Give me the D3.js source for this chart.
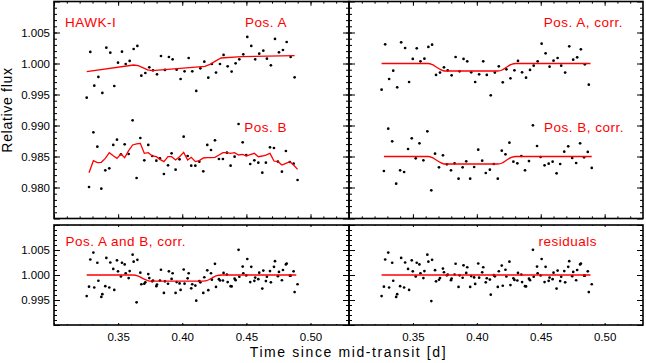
<!DOCTYPE html>
<html>
<head>
<meta charset="utf-8">
<script src="https://cdn.jsdelivr.net/npm/d3@7"></script>
<style>
body { margin: 0; background: #fff; }
svg { display: block; font-family: "Liberation Sans", Arial, sans-serif; }
</style>
</head>
<body>
<div id="chart"></div>
<script>
// time stamps (days since mid-transit) of the two detector positions
let tA = [0.3255,0.3283,0.3314,0.3346,0.3377,0.3408,0.3439,0.3470,0.3499,0.3530,0.3559,0.3590,0.3621,0.3650,0.3681,0.3712,0.3743,0.3772,0.3803,0.3834,0.3865,0.3896,0.3925,0.3956,0.3987,0.4018,0.4050,0.4078,0.4109,0.4141,0.4172,0.4203,0.4231,0.4263,0.4294,0.4322,0.4354,0.4385,0.4416,0.4445,0.4476,0.4507,0.4538,0.4569,0.4600,0.4632,0.4660,0.4691,0.4723,0.4754,0.4785,0.4814,0.4845,0.4876]
let tB = [0.3273,0.3307,0.3338,0.3369,0.3400,0.3431,0.3462,0.3491,0.3522,0.3551,0.3582,0.3613,0.3644,0.3673,0.3704,0.3735,0.3766,0.3798,0.3826,0.3857,0.3889,0.3917,0.3948,0.3979,0.4011,0.4042,0.4070,0.4102,0.4133,0.4164,0.4195,0.4224,0.4255,0.4286,0.4317,0.4348,0.4377,0.4408,0.4439,0.4471,0.4499,0.4530,0.4562,0.4593,0.4624,0.4652,0.4684,0.4715,0.4746,0.4777,0.4808,0.4839,0.4868,0.4899]

// raw relative flux
let rawA = [0.99449,1.00186,0.99643,0.99783,0.99525,1.00256,1.00175,0.99637,1.00014,1.00191,0.99992,1.00041,1.00234,1.00283,0.99804,0.99847,0.99939,0.99890,0.99826,1.00121,0.99896,1.00105,1.00068,0.99901,0.99750,0.99874,1.00089,0.99874,0.99557,0.99922,1.00030,0.99772,0.99992,0.99853,0.99992,1.00138,0.99955,0.99869,1.00003,1.00068,1.00148,1.00428,1.00283,1.00068,1.00159,1.00207,1.00078,0.99971,1.00396,1.00181,1.00218,1.00347,1.00105,0.99777]
let rawB = [0.99508,1.00390,1.00159,0.99481,0.99777,0.99809,1.00186,1.00272,1.00035,1.00196,1.00040,1.00583,0.99653,1.00298,0.99938,1.00186,1.00008,0.99933,0.99970,0.99718,0.99858,1.00051,0.99788,0.99954,1.00320,1.00008,0.99852,0.99852,0.99917,0.99761,1.00186,1.00105,1.00261,0.99960,0.99960,1.00062,0.99852,0.99997,1.00524,1.00229,1.00024,0.99879,0.99938,0.99901,0.99739,0.99901,1.00148,1.00137,0.99917,0.99755,1.00089,0.99911,0.99884,0.99621]

// trend x transit fits to the raw data
let fitA_t = [0.3255,0.3621,0.3657,0.3696,0.3730,0.3766,0.4177,0.4216,0.4255,0.4302,0.4463,0.4876]
let fitA_f = [0.99869,0.99976,0.99965,0.99928,0.99896,0.99885,0.99955,0.99987,1.00035,1.00089,1.00110,1.00127]
let fitB = [0.99739,0.99933,0.99901,0.99906,0.99970,1.00062,1.00013,0.99970,1.00040,0.99981,1.00094,1.00186,1.00202,1.00212,1.00051,1.00062,1.00008,0.99997,0.99954,0.99917,0.99997,0.99997,0.99944,0.99997,1.00067,0.99944,0.99987,0.99917,0.99933,0.99976,0.99981,0.99981,0.99987,1.00024,1.00062,1.00062,1.00051,1.00062,1.00024,1.00035,1.00008,1.00030,1.00051,0.99997,1.00008,1.00024,1.00051,0.99927,0.99917,0.99863,0.99890,0.99917,0.99863,0.99793]

// corrected flux
let corrA = [0.99578,1.00310,0.99750,0.99885,0.99616,1.00342,1.00250,0.99702,1.00073,1.00245,1.00035,1.00078,1.00267,1.00304,0.99815,0.99853,0.99939,0.99890,0.99810,1.00105,0.99874,1.00073,1.00035,0.99858,0.99702,0.99826,1.00035,0.99815,0.99487,0.99853,0.99955,0.99697,0.99906,0.99761,0.99890,1.00041,0.99858,0.99772,0.99896,0.99965,1.00035,1.00320,1.00164,0.99949,1.00046,1.00089,0.99965,0.99853,1.00277,1.00062,1.00100,1.00229,0.99987,0.99659]
let corrB = [0.99766,1.00449,1.00245,0.99562,0.99777,0.99750,1.00121,1.00293,0.99970,1.00212,0.99938,1.00406,0.99454,1.00046,0.99825,1.00019,0.99874,0.99777,0.99890,0.99642,0.99825,0.99922,0.99642,0.99831,1.00110,0.99933,0.99734,0.99788,0.99879,0.99642,1.00094,1.00035,1.00223,0.99917,0.99890,1.00008,0.99777,0.99927,1.00503,1.00169,0.99992,0.99858,0.99884,0.99917,0.99729,0.99879,1.00078,1.00164,0.99976,0.99895,1.00212,0.99987,1.00073,0.99815]

// residuals
let residA = [0.99578,1.00310,0.99750,0.99885,0.99616,1.00342,1.00250,0.99702,1.00073,1.00245,1.00035,1.00078,1.00267,1.00304,0.99873,0.99940,1.00055,1.00010,0.99930,1.00225,0.99994,1.00193,1.00155,0.99978,0.99822,0.99946,1.00155,0.99935,0.99607,0.99973,1.00075,0.99785,0.99970,0.99798,0.99901,1.00041,0.99858,0.99772,0.99896,0.99965,1.00035,1.00320,1.00164,0.99949,1.00046,1.00089,0.99965,0.99853,1.00277,1.00062,1.00100,1.00229,0.99987,0.99659]
let residB = [0.99766,1.00449,1.00245,0.99562,0.99777,0.99750,1.00121,1.00293,0.99970,1.00212,0.99938,1.00406,0.99478,1.00096,0.99905,1.00129,0.99994,0.99897,1.00010,0.99762,0.99945,1.00042,0.99762,0.99951,1.00230,1.00053,0.99854,0.99908,0.99999,0.99762,1.00188,1.00105,1.00267,0.99935,0.99890,1.00008,0.99777,0.99927,1.00503,1.00169,0.99992,0.99858,0.99884,0.99917,0.99729,0.99879,1.00078,1.00164,0.99976,0.99895,1.00212,0.99987,1.00073,0.99815]

// transit model
let modelT = [0.3255,0.3618,0.3652,0.3683,0.3717,0.3748,0.4164,0.4198,0.4234,0.4270,0.4307,0.4889]
let modelF = [1.0000,1.0000,0.99982,0.99944,0.99901,0.99879,0.99879,0.99895,0.99944,0.99987,1.0000,1.0000]
let flatT = [0.3255,0.4889]
let flatF = [1.0000,1.0000]

// axes
let xTickLabels = [0.35,0.40,0.45,0.50]
let yTickLabelsTop = [0.980,0.985,0.990,0.995,1.000,1.005]
let yTickLabelsBottom = [0.995,1.000,1.005]

let offsetB = 0.015   // Pos. B shifted down for clarity in the upper panels

let width = 646, height = 363
let cols = [[54, 349], [349, 643]]
let rows = [[1.5, 218.5], [225, 325]]
let xDomain = [0.30, 0.53]
let yDomains = [[0.975, 1.010], [0.990, 1.010]]
let xMajor = [0.30].concat(xTickLabels)
let xMinor = d3.range(31, 53).map(d => d / 100)
let yMajor = [d3.range(975, 1011, 5).map(d => d / 1000), d3.range(990, 1011, 5).map(d => d / 1000)]
let yMinor = [d3.range(976, 1010).map(d => d / 1000), d3.range(991, 1010).map(d => d / 1000)]
let yLabels = [yTickLabelsTop, yTickLabelsBottom]

let red = '#ff0000'

let svg = d3.select('#chart').append('svg')
    .attr('width', width)
    .attr('height', height)

svg.append('rect').attr('width', width).attr('height', height).attr('fill', '#fff')

let fmt2 = d3.format('.2f'), fmt3 = d3.format('.3f')

function panel(col, row, series, lines, labels) {
    let x = d3.scaleLinear().domain(xDomain).range(cols[col])
    let y = d3.scaleLinear().domain(yDomains[row]).range([rows[row][1], rows[row][0]])
    let g = svg.append('g')
    let xl = row == 0 ? 4.3 : 2
    let yl = 6

    function addAxis(axis, pos, vals, len, fmt, pad) {
        let a = g.append('g')
            .attr('transform', pos)
            .call(axis.tickValues(vals).tickSize(-len).tickPadding(pad).tickFormat(fmt))
        a.select('.domain').remove()
        a.selectAll('line').attr('stroke', '#000').attr('stroke-width', 1)
        a.selectAll('text')
            .attr('fill', '#000')
            .style('font-family', '"Liberation Sans", Arial, sans-serif')
            .style('font-size', '11.5px')
        a.attr('font-size', null).attr('font-family', null)
    }
    let none = () => ''
    let bottom = 'translate(0,' + rows[row][1] + ')'
    let top = 'translate(0,' + rows[row][0] + ')'
    let left = 'translate(' + cols[col][0] + ',0)'
    let right = 'translate(' + cols[col][1] + ',0)'

    addAxis(d3.axisBottom(x), bottom, xMinor, xl / 2, none, 0)
    addAxis(d3.axisBottom(x), bottom, xMajor, xl,
        (row == 1) ? (d => xTickLabels.includes(d) ? fmt2(d) : '') : none, 8)
    addAxis(d3.axisTop(x), top, xMinor, xl / 2, none, 0)
    addAxis(d3.axisTop(x), top, xMajor, xl, none, 0)
    addAxis(d3.axisLeft(y), left, yMinor[row], yl / 2, none, 0)
    addAxis(d3.axisLeft(y), left, yMajor[row], yl,
        (col == 0) ? (d => yLabels[row].some(v => Math.abs(v - d) < 1e-9) ? fmt3(d) : '') : none, 4)
    addAxis(d3.axisRight(y), right, yMinor[row], yl / 2, none, 0)
    addAxis(d3.axisRight(y), right, yMajor[row], yl, none, 0)

    g.append('rect')
        .attr('x', cols[col][0]).attr('y', rows[row][0])
        .attr('width', cols[col][1] - cols[col][0])
        .attr('height', rows[row][1] - rows[row][0])
        .attr('fill', 'none').attr('stroke', '#000').attr('stroke-width', 1.6)

    series.forEach(s => {
        g.append('g').selectAll('circle')
            .data(d3.zip(s.t, s.f))
            .enter()
            .append('circle')
            .attr('cx', d => x(d[0]))
            .attr('cy', d => y(d[1] - (s.off || 0)))
            .attr('r', 1.35)
            .attr('fill', '#000')
    })

    lines.forEach(l => {
        let line = d3.line()
            .x(d => x(d[0]))
            .y(d => y(d[1]))
            .curve(l.curve || d3.curveLinear)
        g.append('path')
            .datum(d3.zip(l.t, l.f.map(v => v - (l.off || 0))))
            .attr('d', line)
            .style('fill', 'none')
            .style('stroke', red)
            .style('stroke-width', '1.3px')
    })

    labels.forEach(l => {
        g.append('text')
            .attr('x', l.x).attr('y', l.y)
            .attr('text-anchor', l.anchor)
            .attr('fill', red)
            .style('font-size', '13.5px')
            .style('letter-spacing', '0.5px')
            .text(l.text)
    })
}

panel(0, 0,
    [{t: tA, f: rawA}, {t: tB, f: rawB, off: offsetB}],
    [{t: fitA_t, f: fitA_f}, {t: tB, f: fitB, off: offsetB}],
    [{text: 'HAWK-I', x: 65, y: 26.7, anchor: 'start'},
     {text: 'Pos. A', x: 287, y: 26.7, anchor: 'end'},
     {text: 'Pos. B', x: 287, y: 132.3, anchor: 'end'}])

panel(1, 0,
    [{t: tA, f: corrA}, {t: tB, f: corrB, off: offsetB}],
    [{t: modelT, f: modelF, curve: d3.curveMonotoneX},
     {t: [tB[0]].concat(modelT.slice(1, -1), [tB[tB.length - 1]]), f: modelF, off: offsetB, curve: d3.curveMonotoneX}],
    [{text: 'Pos. A, corr.', x: 623, y: 26.7, anchor: 'end'},
     {text: 'Pos. B, corr.', x: 624, y: 132.3, anchor: 'end'}])

panel(0, 1,
    [{t: tA, f: corrA}, {t: tB, f: corrB}],
    [{t: modelT, f: modelF, curve: d3.curveMonotoneX}],
    [{text: 'Pos. A and B, corr.', x: 65.5, y: 246, anchor: 'start'}])

panel(1, 1,
    [{t: tA, f: residA}, {t: tB, f: residB}],
    [{t: flatT, f: flatF}],
    [{text: 'residuals', x: 597, y: 246, anchor: 'end'}])

svg.append('text')
    .attr('transform', 'translate(11.7,110) rotate(-90)')
    .attr('text-anchor', 'middle')
    .style('font-size', '14px')
    .style('letter-spacing', '0.7px')
    .text('Relative flux')

svg.append('text')
    .attr('x', 348.5).attr('y', 356.7)
    .attr('text-anchor', 'middle')
    .style('font-size', '14px')
    .style('letter-spacing', '1.6px')
    .text('Time since mid-transit [d]')
</script>
</body>
</html>
